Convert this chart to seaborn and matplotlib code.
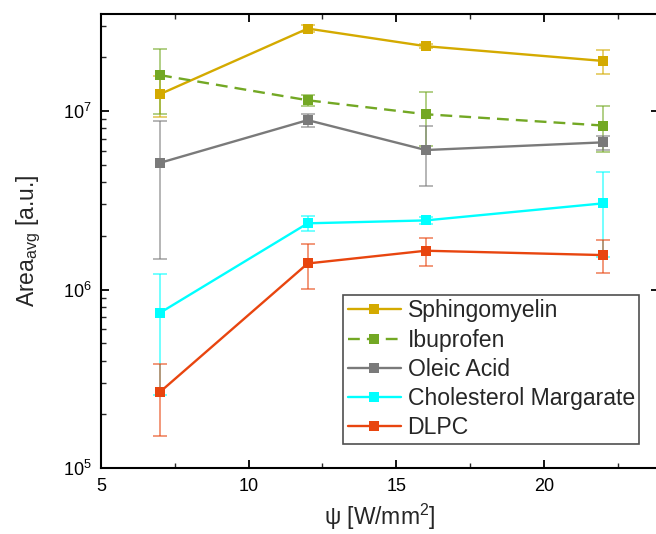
import numpy as np
import pandas as pd
import matplotlib
matplotlib.use("Agg")
import matplotlib.pyplot as plt
import seaborn as sns
from matplotlib.ticker import LogLocator, NullFormatter, MultipleLocator

# Laser intensity (x) and averaged peak area per compound
psi = [7, 12, 16, 22]
compounds = ["Sphingomyelin", "Ibuprofen", "Oleic Acid", "Cholesterol Margarate", "DLPC"]

sphingomyelin = [1.245e7, 2.90e7, 2.31e7, 1.91e7]
sphingomyelin_err = [3.2e6, 1.2e6, 0.6e6, 2.9e6]

ibuprofen = [1.59e7, 1.15e7, 9.6e6, 8.3e6]
ibuprofen_err = [6.3e6, 8.0e5, 3.2e6, 2.4e6]

oleic_acid = [5.13e6, 8.9e6, 6.05e6, 6.68e6]
oleic_acid_err = [3.65e6, 7.5e5, 2.25e6, 6.0e5]

chol_margarate = [7.41e5, 2.35e6, 2.44e6, 3.04e6]
chol_margarate_err = [4.85e5, 2.3e5, 1.2e5, 1.52e6]

dlpc = [2.67e5, 1.40e6, 1.65e6, 1.56e6]
dlpc_err = [1.15e5, 3.95e5, 2.9e5, 3.3e5]

colors = ["#D4AA00", "#73A824", "#7A7A7A", "#00FFFF", "#E8450F"]

values = [sphingomyelin, ibuprofen, oleic_acid, chol_margarate, dlpc]
errors = [sphingomyelin_err, ibuprofen_err, oleic_acid_err, chol_margarate_err, dlpc_err]

df = pd.DataFrame({
    "psi": np.tile(psi, len(compounds)),
    "area": np.concatenate(values),
    "err": np.concatenate(errors),
    "compound": np.repeat(compounds, len(psi)),
})

sns.set_theme(style="white")
plt.rcParams["font.family"] = ["Liberation Sans", "DejaVu Sans"]
plt.rcParams["mathtext.fontset"] = "custom"
plt.rcParams["mathtext.rm"] = "Liberation Sans"
plt.rcParams["mathtext.it"] = "Liberation Sans:italic"
plt.rcParams["mathtext.bf"] = "Liberation Sans:bold"

fig = plt.figure(figsize=(6.56, 5.34), dpi=100)
ax = fig.add_axes([0.154, 0.1236, 0.8506, 0.8502])

palette = dict(zip(compounds, colors))

# error bars first, lighter than the lines
for name, c in zip(compounds, colors):
    sub = df[df["compound"] == name]
    ax.errorbar(sub["psi"], sub["area"], yerr=sub["err"], fmt="none",
                ecolor=c, alpha=0.7, elinewidth=1.1, capsize=5, capthick=1.1,
                zorder=2)

dashes = {n: "" for n in compounds}
dashes["Ibuprofen"] = (5, 3)
sns.lineplot(data=df, x="psi", y="area", hue="compound", style="compound",
             palette=palette, dashes=dashes, markers={n: "s" for n in compounds},
             markersize=7.5, markeredgewidth=0, linewidth=1.7, ax=ax,
             hue_order=compounds, style_order=compounds, zorder=3)

ax.set_yscale("log")
ax.set_xlim(5, 23.9)
ax.set_ylim(1e5, 3.5e7)

ax.xaxis.set_major_locator(MultipleLocator(5))
ax.xaxis.set_minor_locator(MultipleLocator(2.5))
ax.yaxis.set_major_locator(LogLocator(base=10))
ax.yaxis.set_minor_locator(LogLocator(base=10, subs=np.arange(2, 10)))
ax.yaxis.set_minor_formatter(NullFormatter())

for side in ["left", "bottom", "top", "right"]:
    ax.spines[side].set_visible(True)
    ax.spines[side].set_color("black")
    ax.spines[side].set_linewidth(1.5)

ax.tick_params(which="major", direction="in", length=6, width=1.3,
               labelsize=13, colors="black", top=True, right=True,
               bottom=True, left=True, pad=7)
ax.tick_params(which="minor", direction="in", length=3.5, width=1.0,
               top=True, bottom=True, left=True, right=False)

ax.set_xlabel("ψ [W/mm$^2$]", fontsize=16.5, labelpad=5)
ax.set_ylabel("Area$_{\\mathrm{avg}}$ [a.u.]", fontsize=16.5, labelpad=14)

leg = ax.legend(loc="lower left", bbox_to_anchor=(0.4337, 0.0529),
                borderaxespad=0, frameon=True, fancybox=False,
                fontsize=16.6, handlelength=2.3, handletextpad=0.3,
                labelspacing=0.27, borderpad=0.2)
leg.get_frame().set_edgecolor("#222222")
leg.get_frame().set_linewidth(1.2)

fig.savefig("out.png", dpi=100)
